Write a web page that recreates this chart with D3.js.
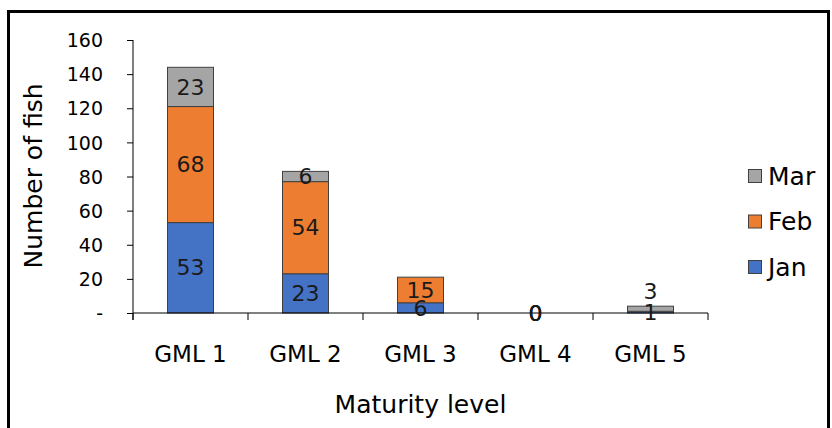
<!DOCTYPE html>
<meta charset="utf-8">
<script src="https://d3js.org/d3.v7.min.js"></script>
<style>
  body { margin: 0; background: #fff; }
  text { font-family: "DejaVu Sans", Verdana, sans-serif; fill: #000; }
</style>
<div id="chart"></div>
<script>
// data (null = blank cell, no label)
const categories = ["GML 1", "GML 2", "GML 3", "GML 4", "GML 5"];
const months = ["Jan", "Feb", "Mar"];
const jan = [53, 23, 6, 0, 1];
const feb = [68, 54, 15, 0, null];
const mar = [23, 6, null, 0, 3];
const yTicks = [0, 20, 40, 60, 80, 100, 120, 140, 160];
const colors = {Jan: "#4472C4", Feb: "#ED7D31", Mar: "#A5A5A5"};

const W = 832, H = 428;
const margin = {top: 40, right: 124, bottom: 115, left: 133};
const width = W - margin.left - margin.right,
      height = H - margin.top - margin.bottom;

const svg = d3.select("#chart").append("svg")
  .attr("width", W).attr("height", H);

// outer frame
svg.append("rect")
  .attr("x", 8.5).attr("y", 11.5)
  .attr("width", 820).attr("height", 440)
  .attr("fill", "none").attr("stroke", "#000").attr("stroke-width", 3);

const g = svg.append("g").attr("transform", `translate(${margin.left},${margin.top})`);

const x = d3.scaleBand().domain(categories).range([0, width]).paddingInner(0.6).paddingOuter(0.3);
const y = d3.scaleLinear().domain([0, 160]).range([height, 0]);

const table = categories.map((c, i) => ({cat: c, Jan: jan[i], Feb: feb[i], Mar: mar[i]}));
const stack = d3.stack().keys(months).value((d, k) => d[k] || 0)(table);

// bars
g.selectAll("g.series").data(stack).join("g")
  .attr("class", "series")
  .attr("fill", d => colors[d.key])
  .selectAll("rect").data(d => d).join("rect")
    .attr("x", d => x(d.data.cat))
    .attr("y", d => y(d[1]))
    .attr("width", x.bandwidth())
    .attr("height", d => y(d[0]) - y(d[1]))
    .attr("stroke", "#404040")
    .attr("stroke-width", 1);

// y axis
const yAxis = g.append("g")
  .call(d3.axisLeft(y).tickValues(yTicks).tickSize(6).tickPadding(24)
    .tickFormat(d => d === 0 ? "-" : d));
yAxis.select(".domain").attr("d", `M0,0V${height + 7}`);
yAxis.selectAll("text").style("font-size", "19px").attr("dy", "0.35em");

// x axis
const xAxis = g.append("g").attr("transform", `translate(0,${height})`);
xAxis.append("line").attr("x1", 0).attr("x2", width).attr("stroke", "#000");
const edges = d3.range(categories.length + 1).map(i => i * x.step());
xAxis.selectAll("line.tk").data(edges).join("line")
  .attr("class", "tk")
  .attr("x1", d => d).attr("x2", d => d)
  .attr("y1", 0).attr("y2", 7).attr("stroke", "#000");
xAxis.selectAll("text").data(categories).join("text")
  .attr("x", d => x(d) + x.bandwidth() / 2)
  .attr("y", 49)
  .attr("text-anchor", "middle")
  .style("font-size", "23px")
  .text(d => d);

// data labels
stack.forEach(s => {
  s.forEach((d, i) => {
    const v = d.data[s.key];
    if (v === null) return;
    let ly = (y(d[0]) + y(d[1])) / 2;
    // Mar label that won't fit goes above the bar
    if (s.key === "Mar" && y(d[0]) - y(d[1]) < 8 && v > 0) ly = y(d[1]) - 15;
    g.append("text")
      .attr("x", x(d.data.cat) + x.bandwidth() / 2)
      .attr("y", ly)
      .attr("dy", "0.35em")
      .attr("text-anchor", "middle")
      .style("font-size", "22px")
      .style("fill", "#1a1a1a")
      .text(v);
  });
});

// axis titles
svg.append("text")
  .attr("transform", `translate(42,176) rotate(-90)`)
  .attr("text-anchor", "middle")
  .style("font-size", "25px")
  .text("Number of fish");
svg.append("text")
  .attr("x", margin.left + width / 2)
  .attr("y", 413)
  .attr("text-anchor", "middle")
  .style("font-size", "25px")
  .text("Maturity level");

// legend
const legend = svg.append("g").attr("transform", "translate(748,176)");
["Mar", "Feb", "Jan"].forEach((m, i) => {
  const row = legend.append("g").attr("transform", `translate(0,${i * 45.5})`);
  row.append("rect").attr("x", 0.5).attr("y", -6.5).attr("width", 13).attr("height", 13)
    .attr("fill", colors[m]).attr("stroke", "#404040");
  row.append("text").attr("x", 20).attr("y", 0).attr("dy", "0.35em")
    .style("font-size", "25px").text(m);
});
</script>
